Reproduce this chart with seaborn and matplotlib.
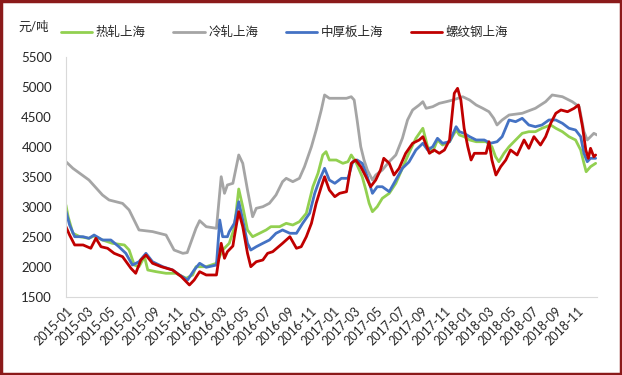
import matplotlib
matplotlib.use('Agg')
import matplotlib.pyplot as plt
import matplotlib.dates as mdates
from matplotlib.patches import Rectangle
import seaborn as sns
import pandas as pd

# 冷轧上海
cold_dates = ['2015-01-01', '2015-01-20', '2015-03-05', '2015-04-11', '2015-04-29', '2015-06-05', '2015-06-23',
              '2015-07-20', '2015-08-26', '2015-10-02', '2015-10-24', '2015-11-17', '2015-11-29', '2015-12-23',
              '2016-01-02', '2016-01-20', '2016-02-17', '2016-03-01', '2016-03-10', '2016-03-18', '2016-04-02',
              '2016-04-18', '2016-04-29', '2016-05-12', '2016-05-26', '2016-06-05', '2016-06-23', '2016-07-11',
              '2016-07-29', '2016-08-16', '2016-08-26', '2016-09-13', '2016-10-01', '2016-10-15', '2016-11-03',
              '2016-11-16', '2016-11-30', '2016-12-09', '2016-12-22', '2017-02-07', '2017-02-20', '2017-02-28',
              '2017-03-08', '2017-03-18', '2017-03-27', '2017-04-05', '2017-04-19', '2017-04-28', '2017-05-16',
              '2017-06-04', '2017-06-22', '2017-07-10', '2017-07-24', '2017-08-07', '2017-08-25', '2017-09-04',
              '2017-09-13', '2017-10-01', '2017-10-19', '2017-11-07', '2017-11-25', '2017-12-22', '2018-01-10',
              '2018-01-28', '2018-02-15', '2018-03-04', '2018-03-17', '2018-03-26', '2018-04-09', '2018-04-28',
              '2018-06-03', '2018-07-09', '2018-08-06', '2018-08-24', '2018-09-21', '2018-10-18', '2018-11-06',
              '2018-11-19', '2018-11-28', '2018-12-07', '2018-12-16', '2018-12-25']
cold_vals = [3755, 3645, 3450, 3200, 3117, 3060, 2950,
             2617, 2590, 2533, 2283, 2228, 2240, 2645,
             2772, 2672, 2645, 3505, 3228, 3367, 3395,
             3867, 3728, 3283, 2838, 2978, 3005, 3062,
             3200, 3422, 3478, 3422, 3478, 3672, 4005,
             4283, 4617, 4867, 4812, 4812, 4838, 4783,
             4450, 4005, 3783, 3617, 3450, 3533, 3617,
             3755, 3867, 4145, 4450, 4617, 4700, 4755,
             4645, 4672, 4728, 4755, 4783, 4838, 4783,
             4700, 4645, 4588, 4478, 4367, 4450, 4533,
             4562, 4645, 4755, 4867, 4838, 4755, 4672,
             4255, 4117, 4172, 4228, 4200]

# 热轧上海
hot_dates = ['2015-01-01', '2015-01-07', '2015-01-20', '2015-02-08', '2015-03-05', '2015-03-19', '2015-04-11',
             '2015-05-08', '2015-06-10', '2015-06-23', '2015-07-07', '2015-07-20', '2015-08-04', '2015-08-13',
             '2015-09-05', '2015-10-02', '2015-10-29', '2015-11-26', '2015-12-14', '2015-12-23', '2016-01-20',
             '2016-02-17', '2016-03-05', '2016-03-23', '2016-04-06', '2016-04-18', '2016-04-29', '2016-05-12',
             '2016-05-26', '2016-06-14', '2016-07-02', '2016-07-15', '2016-08-08', '2016-08-26', '2016-09-13',
             '2016-10-01', '2016-10-20', '2016-11-07', '2016-11-21', '2016-12-04', '2016-12-13', '2016-12-22',
             '2017-01-10', '2017-01-28', '2017-02-11', '2017-02-20', '2017-03-04', '2017-03-22', '2017-04-01',
             '2017-04-10', '2017-04-19', '2017-05-02', '2017-05-16', '2017-06-04', '2017-06-22', '2017-07-10',
             '2017-07-28', '2017-08-16', '2017-09-04', '2017-09-17', '2017-10-01', '2017-10-14', '2017-10-28',
             '2017-11-16', '2017-12-04', '2017-12-13', '2017-12-26', '2018-01-10', '2018-01-28', '2018-02-24',
             '2018-03-12', '2018-03-22', '2018-03-31', '2018-04-14', '2018-04-28', '2018-05-16', '2018-06-03',
             '2018-06-21', '2018-07-09', '2018-07-27', '2018-08-20', '2018-09-03', '2018-09-21', '2018-10-09',
             '2018-10-27', '2018-11-10', '2018-11-19', '2018-11-25', '2018-12-07', '2018-12-21']
hot_vals = [3033, 2838, 2562, 2505, 2478, 2517, 2450,
            2395, 2367, 2283, 2033, 2005, 2172, 1950,
            1922, 1895, 1895, 1812, 1867, 2005, 2005,
            2062, 2283, 2395, 2650, 3300, 3005, 2617,
            2505, 2562, 2617, 2672, 2672, 2728, 2700,
            2755, 2895, 3338, 3562, 3867, 3922, 3783,
            3783, 3728, 3755, 3867, 3755, 3505, 3283,
            3062, 2922, 3005, 3145, 3228, 3395, 3645,
            3900, 4145, 4312, 4005, 3922, 4117, 4033,
            4088, 4283, 4200, 4172, 4117, 4088, 4088,
            4005, 3838, 3755, 3895, 4005, 4117, 4228,
            4255, 4255, 4312, 4367, 4312, 4255, 4172,
            4117, 3950, 3728, 3588, 3672, 3728]

# 中厚板上海
plate_dates = ['2015-01-01', '2015-01-11', '2015-01-25', '2015-02-17', '2015-03-05', '2015-03-19', '2015-04-11',
               '2015-05-04', '2015-05-26', '2015-06-14', '2015-07-02', '2015-07-20', '2015-08-08', '2015-08-26',
               '2015-09-23', '2015-10-20', '2015-11-08', '2015-11-30', '2015-12-18', '2016-01-02', '2016-01-20',
               '2016-02-17', '2016-02-26', '2016-03-05', '2016-03-18', '2016-03-23', '2016-04-06', '2016-04-18',
               '2016-04-29', '2016-05-12', '2016-05-21', '2016-06-05', '2016-06-23', '2016-07-11', '2016-07-29',
               '2016-08-16', '2016-09-05', '2016-09-23', '2016-10-10', '2016-10-29', '2016-11-12', '2016-11-25',
               '2016-12-09', '2016-12-22', '2017-01-06', '2017-01-24', '2017-02-11', '2017-02-24', '2017-03-08',
               '2017-03-22', '2017-04-05', '2017-04-19', '2017-05-02', '2017-05-16', '2017-06-04', '2017-06-22',
               '2017-07-10', '2017-07-28', '2017-08-16', '2017-09-04', '2017-09-17', '2017-10-01', '2017-10-14',
               '2017-10-28', '2017-11-16', '2017-12-04', '2017-12-13', '2017-12-26', '2018-01-10', '2018-01-28',
               '2018-02-19', '2018-03-08', '2018-03-26', '2018-04-09', '2018-04-28', '2018-05-16', '2018-06-03',
               '2018-06-21', '2018-07-09', '2018-07-27', '2018-08-15', '2018-09-03', '2018-09-21', '2018-10-09',
               '2018-10-27', '2018-11-10', '2018-11-19', '2018-11-28', '2018-12-07', '2018-12-21']
plate_vals = [2930, 2700, 2505, 2505, 2478, 2533, 2450,
              2450, 2338, 2228, 2033, 2088, 2228, 2088,
              2005, 1950, 1867, 1783, 1950, 2062, 1995,
              2033, 2783, 2505, 2505, 2588, 2728, 3088,
              2783, 2395, 2283, 2338, 2395, 2450, 2562,
              2617, 2562, 2562, 2728, 2895, 3228, 3450,
              3645, 3450, 3395, 3478, 3478, 3755, 3783,
              3728, 3505, 3228, 3338, 3338, 3255, 3450,
              3645, 3750, 3950, 4062, 3950, 4005, 4145,
              4062, 4088, 4338, 4255, 4228, 4172, 4117,
              4117, 4062, 4088, 4172, 4450, 4422, 4478,
              4367, 4338, 4367, 4450, 4450, 4395, 4312,
              4283, 4172, 3895, 3755, 3812, 3812]

# 螺纹钢上海
rebar_dates = ['2015-01-01', '2015-01-11', '2015-01-25', '2015-02-17', '2015-03-10', '2015-03-24', '2015-04-07',
               '2015-04-25', '2015-05-13', '2015-06-05', '2015-06-28', '2015-07-11', '2015-07-25', '2015-08-08',
               '2015-08-26', '2015-09-19', '2015-10-20', '2015-11-13', '2015-12-05', '2015-12-18', '2016-01-02',
               '2016-01-20', '2016-02-17', '2016-03-01', '2016-03-10', '2016-03-18', '2016-04-02', '2016-04-06',
               '2016-04-18', '2016-04-29', '2016-05-12', '2016-05-21', '2016-06-05', '2016-06-23', '2016-07-06',
               '2016-07-20', '2016-08-16', '2016-09-05', '2016-09-23', '2016-10-06', '2016-10-20', '2016-11-03',
               '2016-11-16', '2016-11-30', '2016-12-09', '2016-12-22', '2017-01-06', '2017-01-19', '2017-02-07',
               '2017-02-20', '2017-03-04', '2017-03-18', '2017-04-01', '2017-04-14', '2017-04-28', '2017-05-11',
               '2017-05-20', '2017-06-04', '2017-06-17', '2017-07-01', '2017-07-19', '2017-08-07', '2017-08-25',
               '2017-09-04', '2017-09-22', '2017-10-05', '2017-10-19', '2017-11-02', '2017-11-16', '2017-11-29',
               '2017-12-08', '2017-12-17', '2017-12-26', '2018-01-05', '2018-01-14', '2018-01-23', '2018-02-24',
               '2018-03-04', '2018-03-12', '2018-03-23', '2018-04-05', '2018-04-19', '2018-05-02', '2018-05-20',
               '2018-06-08', '2018-06-21', '2018-07-05', '2018-07-23', '2018-08-06', '2018-08-20', '2018-09-03',
               '2018-09-17', '2018-10-05', '2018-10-23', '2018-11-04', '2018-11-15', '2018-11-24', '2018-12-01',
               '2018-12-07', '2018-12-16', '2018-12-21']
rebar_vals = [2672, 2533, 2367, 2367, 2312, 2478, 2338,
              2312, 2228, 2172, 1978, 1895, 2117, 2200,
              2062, 2005, 1950, 1838, 1700, 1783, 1922,
              1867, 1867, 2395, 2145, 2255, 2350, 2505,
              2922, 2672, 2228, 2005, 2088, 2117, 2228,
              2255, 2395, 2505, 2312, 2338, 2505, 2728,
              3062, 3338, 3505, 3283, 3172, 3228, 3255,
              3728, 3783, 3672, 3505, 3338, 3450, 3617,
              3812, 3728, 3533, 3645, 3895, 4062, 4117,
              4172, 3895, 3950, 3895, 3950, 4117, 4895,
              4978, 4783, 4312, 4005, 3783, 3895, 3895,
              4088, 3783, 3533, 3672, 3783, 3950, 3867,
              4117, 3978, 4172, 4033, 4172, 4395, 4562,
              4617, 4588, 4645, 4700, 4338, 3950, 3812,
              3978, 3838, 3867]

series_names = ['热轧上海', '冷轧上海', '中厚板上海', '螺纹钢上海']
series_colors = ['#92D050', '#A5A5A5', '#4472C4', '#C00000']

frames = []
for name, d, v in zip(series_names,
                      [hot_dates, cold_dates, plate_dates, rebar_dates],
                      [hot_vals, cold_vals, plate_vals, rebar_vals]):
    frames.append(pd.DataFrame({'date': pd.to_datetime(d), 'price': v, 'series': name}))
df = pd.concat(frames, ignore_index=True)

sns.set_style('white')
plt.rcParams['font.family'] = ['Lato', 'Noto Sans CJK SC', 'DejaVu Sans']

fig = plt.figure(figsize=(6.22, 3.75), dpi=100)
ax = fig.add_axes([0.106, 0.208, 0.854, 0.64])

sns.lineplot(data=df, x='date', y='price', hue='series', hue_order=series_names,
             palette=series_colors, linewidth=2, ax=ax, estimator=None, sort=True)

ax.set_xlim(pd.Timestamp('2015-01-01'), pd.Timestamp('2018-12-25'))
ax.set_ylim(1500, 5500)
ax.set_yticks(range(1500, 5501, 500))
ax.xaxis.set_major_locator(mdates.MonthLocator(bymonth=[1, 3, 5, 7, 9, 11]))
ax.xaxis.set_major_formatter(mdates.DateFormatter('%Y-%m'))
for lbl in ax.get_xticklabels():
    lbl.set_rotation(45)
    lbl.set_ha('right')
    lbl.set_rotation_mode('anchor')
ax.tick_params(axis='x', which='major', length=4, color='#D9D9D9', labelsize=9, pad=2)
ax.tick_params(axis='y', length=0, labelsize=9.5, pad=10)
ax.set_xlabel('')
ax.set_ylabel('')

sns.despine(ax=ax, top=True, right=True)
ax.spines['left'].set_color('#D9D9D9')
ax.spines['bottom'].set_color('#D9D9D9')
ax.grid(False)

ax.legend(loc='center left', bbox_to_anchor=(0.09, 0.915), bbox_transform=fig.transFigure,
          ncol=4, frameon=False, fontsize=9, handlelength=2.5, columnspacing=2.2,
          handletextpad=0.3, borderaxespad=0)
fig.text(0.029, 0.93, '元/吨', fontsize=9, va='center', ha='left')

fig.add_artist(Rectangle((0.002, 0.003), 0.996, 0.994, transform=fig.transFigure,
                         fill=False, edgecolor='#8B1A1A', linewidth=2.5))

fig.savefig('out.png', dpi=100)
